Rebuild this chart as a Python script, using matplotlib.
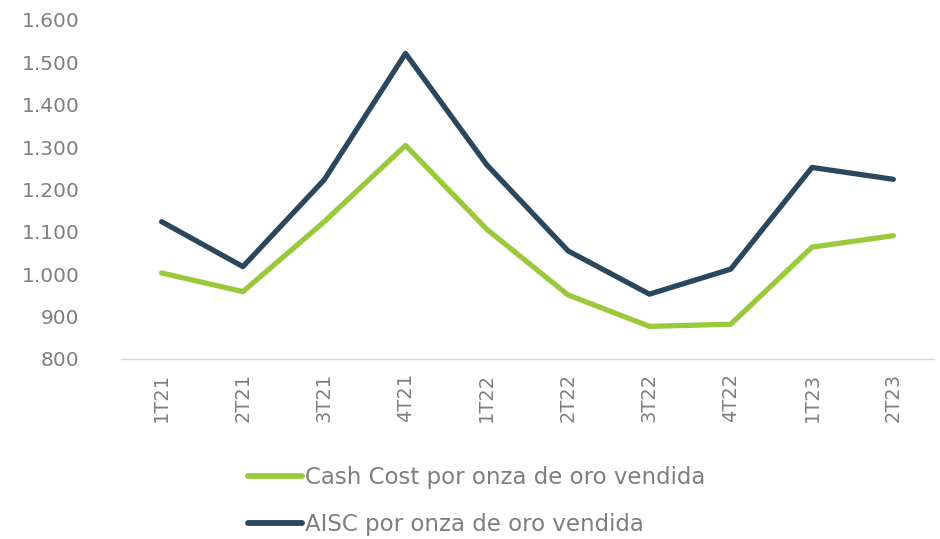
import matplotlib
matplotlib.use("Agg")
import matplotlib.pyplot as plt
from matplotlib.ticker import FuncFormatter

categories = ["1T21", "2T21", "3T21", "4T21", "1T22", "2T22", "3T22", "4T22", "1T23", "2T23"]
cash_cost = [1003, 959, 1124, 1304, 1106, 951, 877, 882, 1064, 1091]
aisc = [1124, 1018, 1223, 1521, 1258, 1055, 953, 1012, 1252, 1224]
y_ticks = [800, 900, 1000, 1100, 1200, 1300, 1400, 1500, 1600]
series_names = ["Cash Cost por onza de oro vendida", "AISC por onza de oro vendida"]

plt.rcParams['font.family'] = ['DejaVu Sans']

fig = plt.figure(figsize=(9.4, 5.39), dpi=100)
ax = fig.add_axes([0.1287, 0.334, 0.8649, 0.6289])

green = "#9ACA3C"
navy = "#2A475E"
grey = "#7F7F7F"

x = list(range(len(categories)))
ax.plot(x, cash_cost, color=green, lw=3.8, solid_capstyle="round", solid_joinstyle="round", label=series_names[0])
ax.plot(x, aisc, color=navy, lw=3.8, solid_capstyle="round", solid_joinstyle="round", label=series_names[1])

ax.set_xlim(-0.5, len(categories) - 0.5)
ax.set_ylim(y_ticks[0], y_ticks[-1])
ax.set_yticks(y_ticks)
ax.yaxis.set_major_formatter(FuncFormatter(lambda v, p: f"{v:,.0f}".replace(",", ".")))
ax.set_xticks(x)
ax.set_xticklabels(categories, rotation=90)

for s in ["top", "right", "left"]:
    ax.spines[s].set_visible(False)
ax.spines["bottom"].set_color("#D9D9D9")
ax.spines["bottom"].set_linewidth(1.0)
ax.tick_params(axis="both", length=0, colors=grey, labelsize=14.5)
ax.tick_params(axis="x", pad=10, labelsize=14)
ax.tick_params(axis="y", pad=30)

leg = fig.legend(loc="center left", bbox_to_anchor=(0.264, 0.07), frameon=False,
                 fontsize=16.5, handlelength=2.35, handletextpad=0.15, labelspacing=1.05,
                 borderaxespad=0, borderpad=0)
for t in leg.get_texts():
    t.set_color(grey)
for l in leg.get_lines():
    l.set_linewidth(4.2)
    l.set_solid_capstyle("round")

fig.savefig("out.png", dpi=100)
